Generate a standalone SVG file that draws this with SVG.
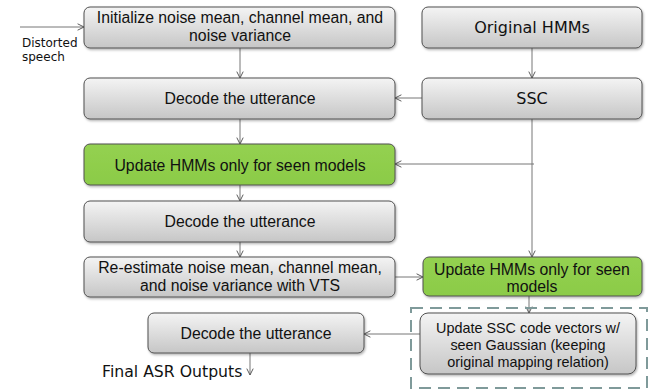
<svg xmlns="http://www.w3.org/2000/svg" width="660" height="390" viewBox="0 0 660 390">
<defs>
<linearGradient id="gray" x1="0" y1="0" x2="0" y2="1">
<stop offset="0" stop-color="#f4f4f4"/>
<stop offset="1" stop-color="#c6c6c6"/>
</linearGradient>
<linearGradient id="green" x1="0" y1="0" x2="0" y2="1">
<stop offset="0" stop-color="#94d151"/>
<stop offset="1" stop-color="#8bcb47"/>
</linearGradient>
<filter id="sh" x="-5%" y="-10%" width="110%" height="130%">
<feDropShadow dx="1" dy="1.5" stdDeviation="1" flood-color="#000" flood-opacity="0.3"/>
</filter>
<marker id="arr" viewBox="0 0 10 10" refX="9" refY="5" markerWidth="8" markerHeight="8" orient="auto" markerUnits="userSpaceOnUse">
<path d="M1,1 L9,5 L1,9" fill="none" stroke="#555" stroke-width="1.2"/>
</marker>
<style>
.box{fill:url(#gray);stroke:#505050;stroke-width:1;filter:url(#sh)}
.gbox{fill:url(#green);stroke:#505050;stroke-width:1;filter:url(#sh)}
.t{font-family:"Liberation Sans",Arial,sans-serif;font-size:15.8px;fill:#111;text-anchor:middle}
.ts{font-family:"Liberation Sans",Arial,sans-serif;font-size:14.4px;fill:#111;text-anchor:middle}
.v{font-family:"DejaVu Sans",Verdana,sans-serif;font-size:16px;fill:#111;text-anchor:middle}
.lbl{font-family:"DejaVu Sans",Verdana,sans-serif;fill:#111}
.c{fill:none;stroke:#777;stroke-width:1}
.ca{fill:none;stroke:#777;stroke-width:1;marker-end:url(#arr)}
</style>
</defs>

<g id="connectors">
<path class="ca" d="M20,27 L84,27"/>
<path class="ca" d="M240,48 L240,78"/>
<path class="ca" d="M532,48 L532,78"/>
<path class="ca" d="M422,98 L395,98"/>
<path class="ca" d="M532,119 L532,257"/>
<path class="ca" d="M534,164 L395,164"/>
<path class="ca" d="M240,119 L240,144"/>
<path class="ca" d="M240,185 L240,201"/>
<path class="ca" d="M240,242 L240,257"/>
<path class="ca" d="M395,277 L423,277"/>
<path class="ca" d="M529,296 L529,313"/>
<path class="ca" d="M420,334 L364,334"/>
<path class="ca" d="M250,353 L250,375"/>
</g>

<g id="dashed-group">
<rect x="411" y="308" width="236" height="80" fill="none" stroke="#7f9a9a" stroke-width="2" stroke-dasharray="12,7"/>
</g>

<g id="init">
<rect class="box" x="84" y="7" width="311" height="41" rx="6"/>
<text class="t" x="240" y="23">Initialize noise mean, channel mean, and</text>
<text class="t" x="240" y="41">noise variance</text>
</g>

<g id="original">
<rect class="box" x="422" y="7" width="220" height="41" rx="6"/>
<text class="v" x="532" y="33">Original HMMs</text>
</g>

<g id="decode1">
<rect class="box" x="84" y="78" width="311" height="41" rx="6"/>
<text class="t" x="240" y="104">Decode the utterance</text>
</g>

<g id="ssc">
<rect class="box" x="422" y="78" width="220" height="41" rx="6"/>
<text class="v" x="532" y="104">SSC</text>
</g>

<g id="update1">
<rect class="gbox" x="84" y="144" width="311" height="41" rx="6"/>
<text class="t" x="240" y="171">Update HMMs only for seen models</text>
</g>

<g id="decode2">
<rect class="box" x="84" y="201" width="311" height="41" rx="6"/>
<text class="t" x="240" y="227">Decode the utterance</text>
</g>

<g id="reestimate">
<rect class="box" x="84" y="257" width="311" height="40" rx="6"/>
<text class="t" x="240" y="273">Re-estimate noise mean, channel mean,</text>
<text class="t" x="240" y="291">and noise variance with VTS</text>
</g>

<g id="update2">
<rect class="gbox" x="423" y="257" width="219" height="39" rx="6"/>
<text class="t" x="532" y="275">Update HMMs only for seen</text>
<text class="t" x="532" y="292">models</text>
</g>

<g id="updatessc">
<rect class="box" x="420" y="313" width="216" height="61" rx="8"/>
<text class="ts" x="528" y="333">Update SSC code vectors w/</text>
<text class="ts" x="528" y="350">seen Gaussian (keeping</text>
<text class="ts" x="528" y="367">original mapping relation)</text>
</g>

<g id="decode3">
<rect class="box" x="148" y="313" width="216" height="40" rx="6"/>
<text class="t" x="256" y="339">Decode the utterance</text>
</g>

<g id="labels">
<text class="lbl" x="22" y="47" font-size="12">Distorted</text>
<text class="lbl" x="22" y="61" font-size="12">speech</text>
<text class="lbl" x="102" y="377" font-size="15.7">Final ASR Outputs</text>
</g>
</svg>
